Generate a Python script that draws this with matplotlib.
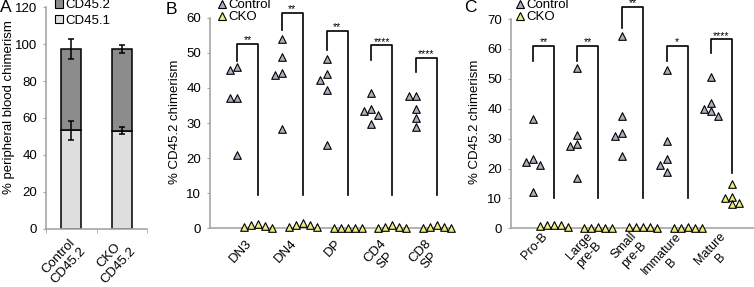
import matplotlib
matplotlib.use("Agg")
import matplotlib.pyplot as plt
import matplotlib.transforms as mtrans
import numpy as np
from matplotlib.lines import Line2D
from matplotlib.patches import Patch

plt.rcParams['font.family'] = ['Liberation Sans', 'DejaVu Sans']

# ---------------- data ----------------
# Panel A
a_groups = ['Control\nCD45.2', 'CKO\nCD45.2']
a_cd451 = [53.4, 53.1]
a_cd451_err = [5.2, 1.8]
a_cd452 = [44.0, 44.3]
a_total_err = [5.4, 2.1]

# Panel B
b_cats = ['DN3', 'DN4', 'DP', 'CD4\nSP', 'CD8\nSP']
b_control = [
    [46.0, 45.0, 37.2, 37.2, 21.0],
    [53.9, 48.8, 44.2, 43.8, 28.3],
    [48.2, 43.9, 42.2, 39.5, 23.6],
    [38.5, 34.0, 33.5, 32.3, 29.7],
    [37.8, 37.8, 34.0, 31.3, 28.9],
]
b_cko = [
    [1.3, 0.8, 0.7, 0.4, 0.2],
    [1.5, 0.8, 0.8, 0.5, 0.3],
    [0.1, 0.1, 0.1, 0.1, 0.1],
    [0.8, 0.4, 0.3, 0.2, 0.2],
    [0.8, 0.3, 0.3, 0.2, 0.2],
]
b_bracket_top = [52.5, 61.4, 56.2, 52.2, 48.6]
b_bracket_left_low = [47.6, 56.5, 50.7, 47.9, 44.5]
b_bracket_right_low = [9.5, 9.5, 9.5, 9.5, 9.5]
b_stars = ['**', '**', '**', '****', '****']

# Panel C
c_cats = ['Pro-B', 'Large\npre-B', 'Small\npre-B', 'Immature\nB', 'Mature\nB']
c_control = [
    [36.7, 23.2, 22.3, 21.2, 12.3],
    [53.7, 31.3, 28.3, 27.4, 16.8],
    [64.3, 37.7, 31.9, 31.0, 24.3],
    [52.8, 29.1, 23.2, 21.2, 18.8],
    [50.6, 41.9, 39.9, 39.1, 37.7],
]
c_cko = [
    [1.2, 1.0, 1.0, 0.8, 0.6],
    [0.3, 0.2, 0.2, 0.2, 0.2],
    [0.6, 0.4, 0.4, 0.4, 0.2],
    [0.3, 0.2, 0.2, 0.1, 0.1],
    [14.9, 10.6, 10.1, 8.4, 8.2],
]
c_bracket_top = [61.0, 61.0, 74.0, 61.0, 63.2]
c_bracket_left_low = [55.9, 55.9, 67.1, 55.9, 58.5]
c_bracket_right_low = [10.3, 10.3, 10.3, 10.3, 18.5]
c_stars = ['**', '**', '**', '*', '****']

# ---------------- style ----------------
W, H = 754, 287
fig = plt.figure(figsize=(W / 100, H / 100), dpi=100)
SPINE = '#a6a6a6'
CTRL = '#a9b0c0'
CKO = '#efed7e'
FS = 9.5
ROT = 47

def fx(px):
    return px / W

def fy(py):
    return 1 - py / H

def style_axes(ax):
    for s in ['top', 'right']:
        ax.spines[s].set_visible(False)
    for s in ['left', 'bottom']:
        ax.spines[s].set_color(SPINE)
        ax.spines[s].set_linewidth(1.2)
    ax.tick_params(axis='y', length=2.5, color=SPINE, labelsize=FS, pad=4)
    ax.tick_params(axis='x', length=0, labelsize=FS, pad=2)

def set_xlabels(ax, labels, dx_px, dy_px, fs=FS):
    ax.set_xticklabels(labels, rotation=ROT, ha='right', va='top', rotation_mode='anchor',
                       multialignment='center', linespacing=1.15, fontsize=fs)
    off = mtrans.ScaledTranslation(dx_px / 100, dy_px / 100, fig.dpi_scale_trans)
    for lab in ax.get_xticklabels():
        lab.set_transform(lab.get_transform() + off)

def place_ylabel(text, x_px, y_px):
    fig.text(fx(x_px), fy(y_px), text, fontsize=FS, rotation=90, ha='center', va='center')

# ---------------- Panel A ----------------
axA = fig.add_axes([fx(46), fy(228.7), fx(147 - 46), fy(7.3) - fy(228.7)])
xa = np.arange(len(a_groups))
bw = 0.4
axA.bar(xa, a_cd451, bw, color='#dedede', edgecolor='black', linewidth=1.1, zorder=2)
axA.bar(xa, a_cd452, bw, bottom=a_cd451, color='#8c8c8c', edgecolor='black', linewidth=1.1, zorder=2)
totals = np.array(a_cd451) + np.array(a_cd452)
axA.errorbar(xa, a_cd451, yerr=a_cd451_err, fmt='none', ecolor='black', elinewidth=1.1, capsize=2.2, capthick=1.1, zorder=3)
axA.errorbar(xa, totals, yerr=a_total_err, fmt='none', ecolor='black', elinewidth=1.1, capsize=2.2, capthick=1.1, zorder=3)
axA.set_xlim(-0.5, 1.5)
axA.set_ylim(0, 120)
axA.set_yticks(range(0, 121, 20))
style_axes(axA)
axA.set_xticks(xa)
set_xlabels(axA, a_groups, -2, -4)
axA.set_xticks([-0.5, 0.5, 1.5], minor=True)
axA.tick_params(axis='x', which='minor', length=3, color=SPINE)
place_ylabel('% peripheral blood chimerism', 9, 107)
fig.legend(handles=[Patch(facecolor='#8c8c8c', edgecolor='black', linewidth=0.8, label='CD45.2'),
                    Patch(facecolor='#dedede', edgecolor='black', linewidth=0.8, label='CD45.1')],
           loc='upper left', bbox_to_anchor=(fx(55), fy(-1)), frameon=False, fontsize=FS,
           handlelength=0.6, handleheight=0.6, handletextpad=0.2, labelspacing=0.3, borderpad=0, borderaxespad=0)
fig.text(fx(0), fy(8), 'A', fontsize=12.5, va='center', ha='left')

# ---------------- swarm helper ----------------
def swarm_offsets(ax, xc, vals, d=7.0):
    """Return x data positions so that markers do not overlap (pixel spacing d)."""
    to_px = ax.transData
    inv = ax.transData.inverted()
    placed = []
    xs = []
    base = to_px.transform((xc, 0))[0]
    for v in vals:
        py = to_px.transform((xc, v))[1]
        for k in [0, -1, 1, -2, 2, -3, 3]:
            px = base + k * d
            if all((px - qx) ** 2 + (py - qy) ** 2 >= (d * 0.98) ** 2 for qx, qy in placed):
                break
        placed.append((px, py))
        xs.append(inv.transform((px, py))[0])
    return xs

def dot_panel(ax, cats, ctrl, cko, btop, bl, br, stars, ylim, off, label_dy, label_fs):
    ax.set_ylim(*ylim)
    n = len(cats)
    for i in range(n):
        xc = i - off
        xk = i + off
        xs = swarm_offsets(ax, xc, ctrl[i])
        ax.scatter(xs, ctrl[i], marker='^', s=30, facecolor=CTRL, edgecolor='black', linewidth=0.8, zorder=4, clip_on=False)
        xs = swarm_offsets(ax, xk, cko[i])
        ax.scatter(xs, cko[i], marker='^', s=30, facecolor=CKO, edgecolor='black', linewidth=0.8, zorder=4, clip_on=False)
        ax.plot([xc, xc, xk, xk], [bl[i], btop[i], btop[i], br[i]], color='black', lw=1.2, clip_on=False, zorder=3)
        ax.annotate(stars[i], xy=(i, btop[i]), xytext=(0, 2.5), textcoords='offset points',
                    ha='center', va='center', fontsize=7.5, annotation_clip=False)
    style_axes(ax)
    ax.set_xticks(range(n))
    set_xlabels(ax, cats, -2, label_dy, label_fs)

# ---------------- Panel B ----------------
axB = fig.add_axes([fx(210), fy(228.3), fx(452 - 210), fy(17.7) - fy(228.3)])
axB.set_xlim(-0.84, 4.57)
axB.set_yticks(range(0, 61, 10))
dot_panel(axB, b_cats, b_control, b_cko, b_bracket_top, b_bracket_left_low, b_bracket_right_low, b_stars, (0, 60), 0.235, -6, FS)
place_ylabel('% CD45.2 chimerism', 175, 122)
fig.text(fx(166), fy(9), 'B', fontsize=12.5, va='center', ha='left')

# ---------------- Panel C ----------------
axC = fig.add_axes([fx(511), fy(228.3), fx(754 - 511), fy(19) - fy(228.3)])
axC.set_xlim(-0.73, 4.73)
axC.set_yticks(range(0, 71, 10))
dot_panel(axC, c_cats, c_control, c_cko, c_bracket_top, c_bracket_left_low, c_bracket_right_low, c_stars, (0, 70), 0.236, 1, 9)
place_ylabel('% CD45.2 chimerism', 475, 122)
fig.text(fx(464), fy(8), 'C', fontsize=12.5, va='center', ha='left')

# legends for B and C
def tri_handles():
    return [Line2D([], [], marker='^', ls='none', markersize=5.8, markerfacecolor=CTRL, markeredgecolor='black', markeredgewidth=0.8, label='Control'),
            Line2D([], [], marker='^', ls='none', markersize=5.8, markerfacecolor=CKO, markeredgecolor='black', markeredgewidth=0.8, label='CKO')]

fig.legend(handles=tri_handles(), loc='upper left', bbox_to_anchor=(fx(218), fy(-1)), frameon=False, fontsize=FS,
           handlelength=0.6, handletextpad=0.2, labelspacing=0.0, borderpad=0, borderaxespad=0)
fig.legend(handles=tri_handles(), loc='upper left', bbox_to_anchor=(fx(516), fy(-1)), frameon=False, fontsize=FS,
           handlelength=0.6, handletextpad=0.2, labelspacing=0.0, borderpad=0, borderaxespad=0)

fig.savefig('out.png', dpi=100)
